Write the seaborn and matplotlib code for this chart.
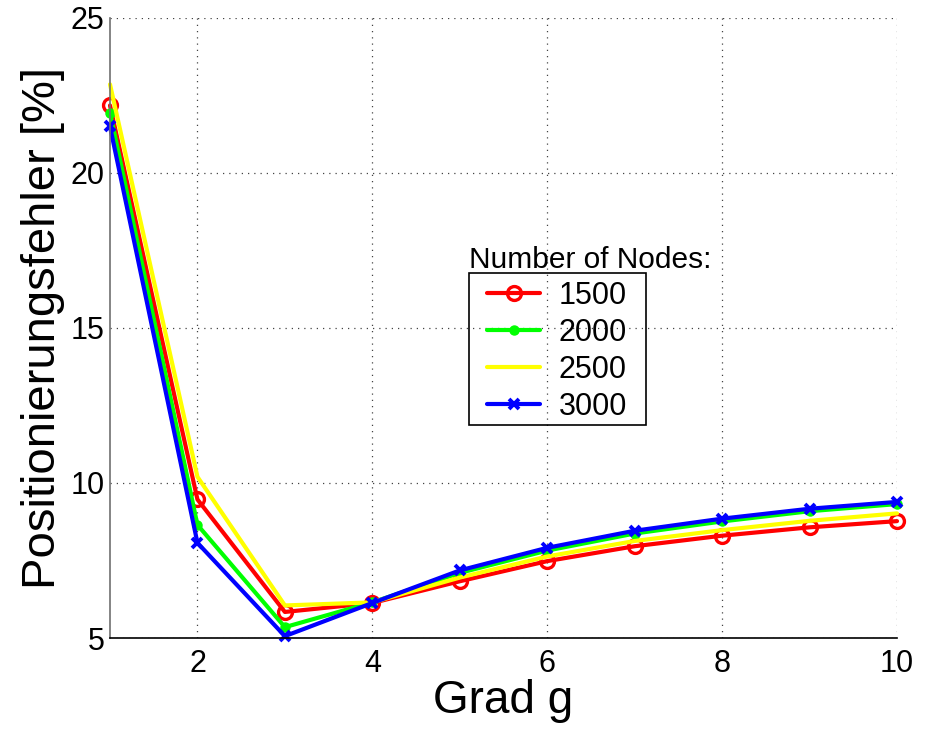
import matplotlib
matplotlib.use("Agg")
import matplotlib.pyplot as plt
import seaborn as sns
import pandas as pd
from matplotlib.ticker import MultipleLocator
from matplotlib.patches import Rectangle

grad = [1, 2, 3, 4, 5, 6, 7, 8, 9, 10]
err_1500 = [22.18, 9.47, 5.84, 6.13, 6.83, 7.48, 7.96, 8.30, 8.57, 8.77]
err_2000 = [21.95, 8.65, 5.35, 6.15, 7.10, 7.82, 8.37, 8.76, 9.09, 9.32]
err_2500 = [22.86, 10.20, 6.05, 6.15, 6.95, 7.63, 8.13, 8.48, 8.78, 9.02]
err_3000 = [21.50, 8.07, 5.06, 6.13, 7.18, 7.91, 8.46, 8.85, 9.17, 9.39]
labels = ["1500", "2000", "2500", "3000"]
series = [err_1500, err_2000, err_2500, err_3000]

sns.set_style("white")
plt.rcParams['font.family'] = ['Liberation Sans', 'DejaVu Sans']
plt.rcParams['text.color'] = 'black'
plt.rcParams['axes.labelcolor'] = 'black'
plt.rcParams['xtick.color'] = 'black'
plt.rcParams['ytick.color'] = 'black'

W, H = 926, 732
fig = plt.figure(figsize=(W/100, H/100), dpi=100)
ax = fig.add_axes([110/W, 1-638/H, (897-110)/W, (638-18)/H])

styles = [
    dict(color="#ff0000", marker="o", markersize=10, markerfacecolor="none",
         markeredgecolor="#ff0000", markeredgewidth=2.4),
    dict(color="#00ff00", marker="o", markersize=6.5, markerfacecolor="#00ff00",
         markeredgecolor="#00ff00", markeredgewidth=1),
    dict(color="#ffff00", marker=""),
    dict(color="#0000ff", marker="x", markersize=7, markeredgecolor="#0000ff",
         markeredgewidth=2.8),
]
for lab, vals, st in zip(labels, series, styles):
    df = pd.DataFrame({"g": grad, "e": vals})
    sns.lineplot(data=df, x="g", y="e", ax=ax, linewidth=3, linestyle="-",
                 label=lab, clip_on=False, **st)

ax.set_xlim(1, 10)
ax.set_ylim(5, 25)
ax.set_xticks([2, 4, 6, 8, 10])
ax.set_yticks([5, 10, 15, 20, 25])
ax.xaxis.set_minor_locator(MultipleLocator(0.2))
ax.tick_params(axis="both", which="major", direction="in", length=7, labelsize=22,
               width=1, colors="black")
ax.tick_params(axis="x", which="major", pad=8)
ax.tick_params(axis="y", which="major", pad=4)
ax.tick_params(axis="x", which="minor", direction="in", length=3, width=0.6)
ax.grid(True, which="major", linestyle=(0, (1, 4)), color="#444444", linewidth=0.9)
for s in ["top", "right"]:
    ax.spines[s].set_visible(False)
ax.spines["left"].set_color("#707070")
ax.spines["bottom"].set_color("#000000")
ax.spines["left"].set_linewidth(1.2)
ax.spines["bottom"].set_linewidth(1.2)

ax.set_xlabel("Grad g", fontsize=33, labelpad=0)
ax.set_ylabel("Positionierungsfehler [%]", fontsize=34, labelpad=4)

handles, labs = ax.get_legend_handles_labels()
leg = ax.legend(handles, labs, loc="upper left", bbox_to_anchor=(487/W, 1-281/H),
                bbox_transform=fig.transFigure, fontsize=22, frameon=False,
                handlelength=1.75, handletextpad=0.6,
                labelspacing=0.23, borderpad=0, numpoints=1, borderaxespad=0)
fig.patches.append(Rectangle((469/W, 1-425/H), (646-469)/W, (425-273)/H,
                             transform=fig.transFigure, fill=False,
                             edgecolor="black", linewidth=1.2, zorder=5))
fig.text(469/W, 1-268/H, "Number of Nodes:", fontsize=21.5, ha="left", va="baseline")

fig.savefig("out.png", dpi=100)
